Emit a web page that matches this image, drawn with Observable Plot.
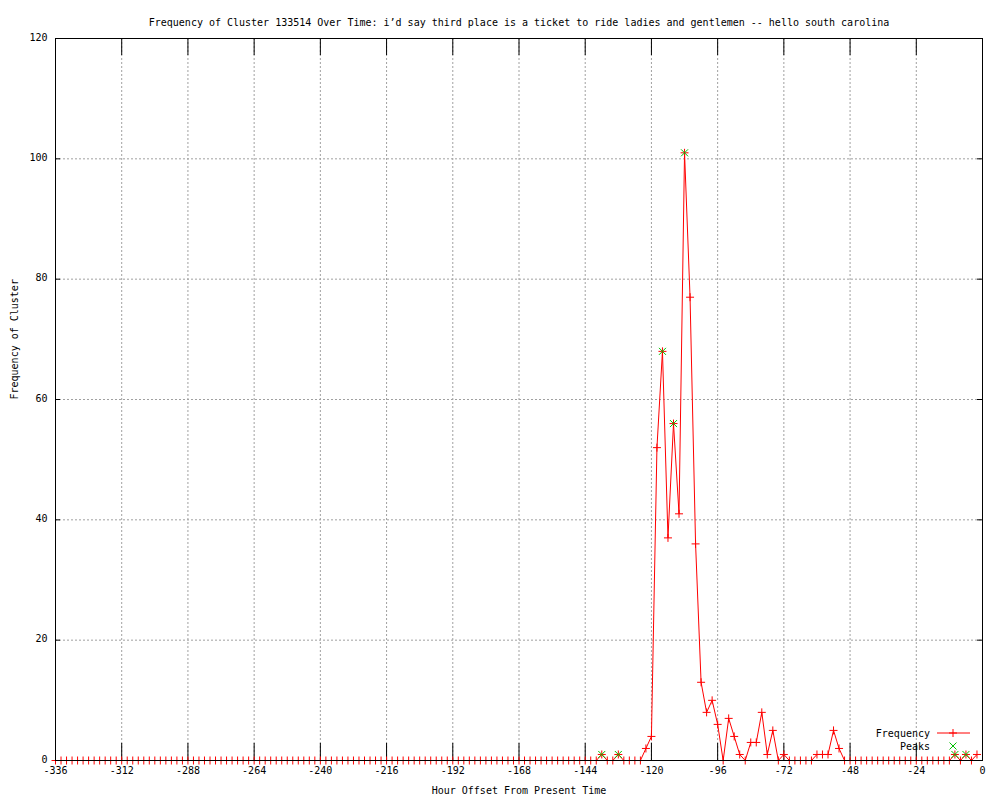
<!DOCTYPE html>
<html><head><meta charset="utf-8">
<script src="https://cdn.jsdelivr.net/npm/d3@7"></script>
<script src="https://cdn.jsdelivr.net/npm/@observablehq/plot@0.6"></script>
<style>body{margin:0;background:#fff} svg{display:block}</style>
</head><body><div id="chart"></div>
<script>
const title = "Frequency of Cluster 133514 Over Time: i\u2019d say third place is a ticket to ride ladies and gentlemen -- hello south carolina";
const xLabel = "Hour Offset From Present Time";
const yLabel = "Frequency of Cluster";
const seriesNames = ["Frequency", "Peaks"];

const startHour = -336, stepHours = 2;
// one value per 2 hours, rows of 24 hours
const frequency = [
  0,0,0,0,0,0,0,0,0,0,0,0,
  0,0,0,0,0,0,0,0,0,0,0,0,
  0,0,0,0,0,0,0,0,0,0,0,0,
  0,0,0,0,0,0,0,0,0,0,0,0,
  0,0,0,0,0,0,0,0,0,0,0,0,
  0,0,0,0,0,0,0,0,0,0,0,0,
  0,0,0,0,0,0,0,0,0,0,0,0,
  0,0,0,0,0,0,0,0,0,0,0,0,
  0,0,0,1,0,0,1,0,0,0,0,2,
  4,52,68,37,56,41,101,77,36,13,8,10,
  6,0,7,4,1,0,3,3,8,1,5,0,
  1,0,0,0,0,0,1,1,1,5,2,0,
  0,0,0,0,0,0,0,0,0,0,0,0,
  0,0,0,0,0,0,0,1,0,1,0,1
];
const peakHours = [-138, -132, -116, -112, -108, -10, -6];
const xTicks = [-336, -312, -288, -264, -240, -216, -192, -168, -144, -120, -96, -72, -48, -24, 0];
const yTicks = [0, 20, 40, 60, 80, 100, 120];

const rows = frequency.map((v, i) => ({hour: startHour + i * stepHours, value: v}));
const peaks = rows.filter(d => peakHours.includes(d.hour));

const FONT = "DejaVu Sans Mono";
const RED = "#ff0000", GREEN = "#00c000", GRID = "#a0a0a0";

const plusSymbol = {draw(ctx, size) { const r = Math.sqrt(size / Math.PI); ctx.moveTo(-r, 0); ctx.lineTo(r, 0); ctx.moveTo(0, -r); ctx.lineTo(0, r); }};
const timesSymbol = {draw(ctx, size) { const r = Math.sqrt(size / Math.PI); ctx.moveTo(-r, -r); ctx.lineTo(r, r); ctx.moveTo(-r, r); ctx.lineTo(r, -r); }};

function legend(index, scales, values, dims) {
  const xr = dims.width - dims.marginRight;
  const yb = dims.height - dims.marginBottom;
  const g = d3.create("svg:g").attr("font-family", FONT).attr("font-size", 10);
  const items = [
    {name: seriesNames[0], y: yb - 27},
    {name: seriesNames[1], y: yb - 14}
  ];
  g.selectAll("text").data(items).join("text")
    .attr("x", xr - 52).attr("y", d => d.y).attr("dy", "0.35em")
    .attr("text-anchor", "end").attr("fill", "black").text(d => d.name);
  const y0 = items[0].y, y1 = items[1].y, cx = xr - 29;
  g.append("line").attr("x1", xr - 45).attr("x2", xr - 12).attr("y1", y0).attr("y2", y0).attr("stroke", RED);
  g.append("path").attr("d", `M${cx - 4},${y0}H${cx + 4}M${cx},${y0 - 4}V${y0 + 4}`).attr("stroke", RED).attr("fill", "none");
  g.append("path").attr("d", `M${cx - 3.5},${y1 - 3.5}L${cx + 3.5},${y1 + 3.5}M${cx - 3.5},${y1 + 3.5}L${cx + 3.5},${y1 - 3.5}`).attr("stroke", GREEN).attr("fill", "none");
  return g.node();
}

const plot = Plot.plot({
  width: 1000,
  height: 800,
  marginLeft: 55,
  marginRight: 18,
  marginTop: 38,
  marginBottom: 40,
  style: {fontFamily: FONT, fontSize: "10px", color: "black", background: "white"},
  x: {domain: [-336, 0], axis: null},
  y: {domain: [0, 120], axis: null},
  marks: [
    // dotted grid
    Plot.ruleX(xTicks.slice(1, -1), {x: d => d, stroke: GRID, strokeDasharray: "2,2"}),
    Plot.ruleY(yTicks.slice(1, -1), {y: d => d, stroke: GRID, strokeDasharray: "2,2"}),
    // inward ticks (bottom/top, left/right)
    Plot.ruleX(xTicks, {x: d => d, stroke: "black", insetTop: 705}),
    Plot.ruleX(xTicks, {x: d => d, stroke: "black", insetBottom: 705}),
    Plot.ruleY(yTicks, {y: d => d, stroke: "black", insetRight: 922}),
    Plot.ruleY(yTicks, {y: d => d, stroke: "black", insetLeft: 922}),
    // tick labels
    Plot.text(xTicks, {x: d => d, text: d => String(d), frameAnchor: "bottom", dy: 13, fill: "black"}),
    Plot.text(yTicks, {y: d => d, text: d => String(d), frameAnchor: "left", dx: -8, dy: -1, textAnchor: "end", fill: "black"}),
    // data
    Plot.line(rows, {x: "hour", y: "value", stroke: RED, strokeWidth: 1}),
    Plot.dot(rows, {x: "hour", y: "value", symbol: plusSymbol, r: 4, stroke: RED, fill: "none", strokeWidth: 1}),
    Plot.dot(peaks, {x: "hour", y: "value", symbol: timesSymbol, r: 3.5, stroke: GREEN, fill: "none", strokeWidth: 1}),
    // frame on top
    Plot.frame({stroke: "black"}),
    // titles
    Plot.text([title], {frameAnchor: "top", dy: -20, fill: "black"}),
    Plot.text([xLabel], {frameAnchor: "bottom", dy: 33, fill: "black"}),
    Plot.text([yLabel], {frameAnchor: "left", dx: -41, rotate: -90, fill: "black"}),
    legend
  ]
});
document.getElementById("chart").append(plot);
</script>
</body></html>
